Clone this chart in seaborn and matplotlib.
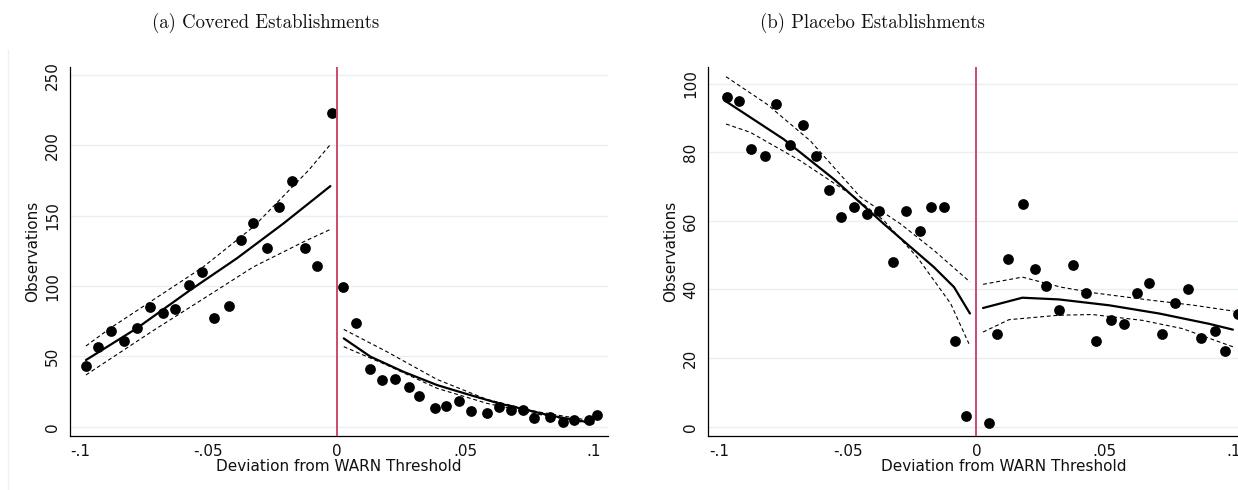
import numpy as np
import pandas as pd
import matplotlib
matplotlib.use("Agg")
import matplotlib.pyplot as plt
import seaborn as sns
from matplotlib.lines import Line2D

# ---------------- data ----------------
titles = ["(a) Covered Establishments", "(b) Placebo Establishments"]
x_label = "Deviation from WARN Threshold"
y_label = "Observations"
x_ticks = [-0.1, -0.05, 0.0, 0.05, 0.1]
x_tick_labels = ["-.1", "-.05", "0", ".05", ".1"]
a_y_ticks = [0, 50, 100, 150, 200, 250]
b_y_ticks = [0, 20, 40, 60, 80, 100]

# panel (a) binned observations
a_x_left = [-.0977, -.0929, -.0879, -.0827, -.0777, -.0727, -.0677, -.0629, -.0577, -.0526,
            -.0477, -.0422, -.0374, -.0326, -.0274, -.0225, -.0175, -.0125, -.0077, -.0021]
a_n_left = [43, 57, 68, 61, 70, 85, 81, 84, 101, 110, 77, 86, 133, 145, 127, 156, 175, 127, 114, 223]
a_x_right = [.0023, .0074, .0127, .0175, .0225, .0280, .0320, .0380, .0424, .0474, .0520,
             .0585, .0630, .0677, .0724, .0768, .0828, .0878, .0922, .0982, .1013]
a_n_right = [99, 74, 41, 33, 34, 28, 22, 13, 15, 18, 11, 10, 14, 12, 12, 6, 7, 3, 5, 5, 8]

# panel (a) fitted density and confidence band
a_fit_lx = [-.0977, -.0779, -.0571, -.0390, -.0208, -.0026]
a_fit_l = [47.4, 70.0, 97.2, 119.7, 144.6, 171.1]
a_hi_lx = [-.0977, -.0883, -.0520, -.0325, -.0110, -.0026]
a_hi_l = [57.4, 70.0, 113.7, 142.2, 182.5, 200.7]
a_lo_lx = [-.0977, -.0714, -.0520, -.0325, -.0130, -.0026]
a_lo_l = [36.8, 68.5, 91.0, 113.7, 131.5, 140.3]
a_fit_rx = [.0026, .0130, .0259, .0389, .0518, .0631, .0724, .0828, .0922, .0997]
a_fit_r = [62.8, 49.8, 39.0, 29.6, 22.5, 16.5, 12.5, 8.0, 4.9, 2.6]
a_hi_rx = [.0026, .0194, .0389, .0583, .0777, .0997]
a_hi_r = [69.2, 53.3, 33.6, 19.4, 10.7, 4.0]
a_lo_rx = [.0026, .0194, .0389, .0583, .0777, .0997]
a_lo_r = [56.9, 43.8, 27.3, 16.6, 9.0, 1.9]

# panel (b) binned observations
b_x_left = [-.0971, -.0923, -.0878, -.0824, -.0778, -.0724, -.0675, -.0625, -.0575, -.0527,
            -.0475, -.0425, -.0380, -.0324, -.0273, -.0221, -.0176, -.0126, -.0085, -.0042]
b_n_left = [96, 95, 81, 79, 94, 82, 88, 79, 69, 61, 64, 62, 63, 48, 63, 57, 64, 64, 25, 3]
b_x_right = [.0051, .0082, .0125, .0180, .0228, .0271, .0322, .0375, .0425, .0467, .0525,
             .0575, .0624, .0673, .0721, .0773, .0825, .0874, .0927, .0969, .1016]
b_n_right = [1, 27, 49, 65, 46, 41, 34, 47, 39, 25, 31, 30, 39, 42, 27, 36, 40, 26, 28, 22, 33]

# panel (b) fitted density and confidence band
b_fit_lx = [-.0974, -.0750, -.0555, -.0360, -.0165, -.0087, -.0025]
b_fit_l = [94.8, 83.8, 72.2, 59.1, 46.5, 40.7, 33.0]
b_hi_lx = [-.0974, -.0815, -.0646, -.0451, -.0295, -.0165, -.0025]
b_hi_l = [102.0, 94.0, 83.3, 66.9, 59.1, 51.4, 42.2]
b_lo_lx = [-.0974, -.0880, -.0685, -.0490, -.0360, -.0230, -.0100, -.0029]
b_lo_l = [88.2, 85.8, 77.5, 67.8, 60.1, 49.4, 35.9, 24.2]
b_fit_rx = [.0026, .0179, .0321, .0516, .0711, .0905, .0998]
b_fit_r = [34.6, 37.6, 37.1, 35.4, 33.0, 30.0, 28.3]
b_hi_rx = [.0026, .0179, .0328, .0458, .0665, .0846, .1000]
b_hi_r = [41.5, 43.6, 40.7, 39.0, 37.0, 35.4, 33.7]
b_lo_rx = [.0026, .0127, .0321, .0451, .0646, .0802, .0998]
b_lo_r = [27.6, 31.2, 32.5, 32.7, 31.0, 28.6, 23.3]

# ---------------- style ----------------
sns.set_style("white")
plt.rcParams["font.family"] = ["DejaVu Sans"]

W, H = 1238, 490
fig = plt.figure(figsize=(W / 100, H / 100), dpi=100)
fig.patch.set_facecolor("white")

RED = "#cc4b6c"
GRID = "#e8f0f2"


def px_axes(left, top, right, bottom):
    return fig.add_axes([left / W, 1 - bottom / H, (right - left) / W, (bottom - top) / H])


ax_a = px_axes(70, 66.7, 608, 435.7)
ax_b = px_axes(708, 66.7, 1246, 435.7)

panels = [
    (ax_a, a_x_left, a_n_left, a_x_right, a_n_right,
     [(a_fit_lx, a_fit_l), (a_fit_rx, a_fit_r)],
     [(a_hi_lx, a_hi_l), (a_lo_lx, a_lo_l), (a_hi_rx, a_hi_r), (a_lo_rx, a_lo_r)],
     a_y_ticks, (-6.4, 256), (-0.1039, 0.1054), 0.5),
    (ax_b, b_x_left, b_n_left, b_x_right, b_n_right,
     [(b_fit_lx, b_fit_l), (b_fit_rx, b_fit_r)],
     [(b_hi_lx, b_hi_l), (b_lo_lx, b_lo_l), (b_hi_rx, b_hi_r), (b_lo_rx, b_lo_r)],
     b_y_ticks, (-2.6, 104.9), (-0.1044, 0.1049), 0.55),
]

for ax, xl, nl, xr, nr, fits, bands, yt, ylim, xlim, xlab_pos in panels:
    for t in yt:
        ax.axhline(t, color=GRID, lw=1.0, zorder=0)
    for bx, by in bands:
        sns.lineplot(x=bx, y=by, ax=ax, color="black", lw=0.8,
                     linestyle=(0, (3.5, 2.5)), sort=True, zorder=3)
    for fx, fy in fits:
        sns.lineplot(x=fx, y=fy, ax=ax, color="black", lw=1.6, sort=True, zorder=4)
    pts = pd.DataFrame({"x": list(xl) + list(xr), "n": list(nl) + list(nr)})
    sns.scatterplot(data=pts, x="x", y="n", ax=ax, color="black", s=60,
                    edgecolor="black", linewidth=0, zorder=5, clip_on=True)
    ax.axvline(0, color=RED, lw=1.4, zorder=6)

    ax.set_xlim(*xlim)
    ax.set_ylim(*ylim)
    ax.set_xticks(x_ticks)
    ax.set_xticklabels(x_tick_labels)
    ax.set_yticks(yt)
    ax.set_yticklabels([str(v) for v in yt], rotation=90, va="center")
    ax.tick_params(axis="both", direction="out", length=5, width=0.9,
                   color="black", labelsize=11, pad=2, labelcolor="#111111")
    ax.tick_params(axis="x", pad=1)
    for side in ["top", "right"]:
        ax.spines[side].set_visible(False)
    for side in ["left", "bottom"]:
        ax.spines[side].set_color("black")
        ax.spines[side].set_linewidth(0.9)
    ax.set_xlabel(x_label, fontsize=11, labelpad=0, color="#111111", x=xlab_pos)
    ax.set_ylabel(y_label, fontsize=11, labelpad=4, color="#111111")
    ax.set_facecolor("white")

# faint panel frame line on the far left
fig.add_artist(Line2D([8 / W, 8 / W], [0, 1 - 50 / H], transform=fig.transFigure,
                      color="#edf2f2", lw=1.0))

# subfigure captions (LaTeX style)
fig.text(266 / W, 1 - 23 / H, titles[0], family="cmr10", fontsize=13.5,
         ha="center", va="center", color="#111111")
fig.text(872 / W, 1 - 23 / H, titles[1], family="cmr10", fontsize=13.5,
         ha="center", va="center", color="#111111")

fig.savefig("out.png", dpi=100)
